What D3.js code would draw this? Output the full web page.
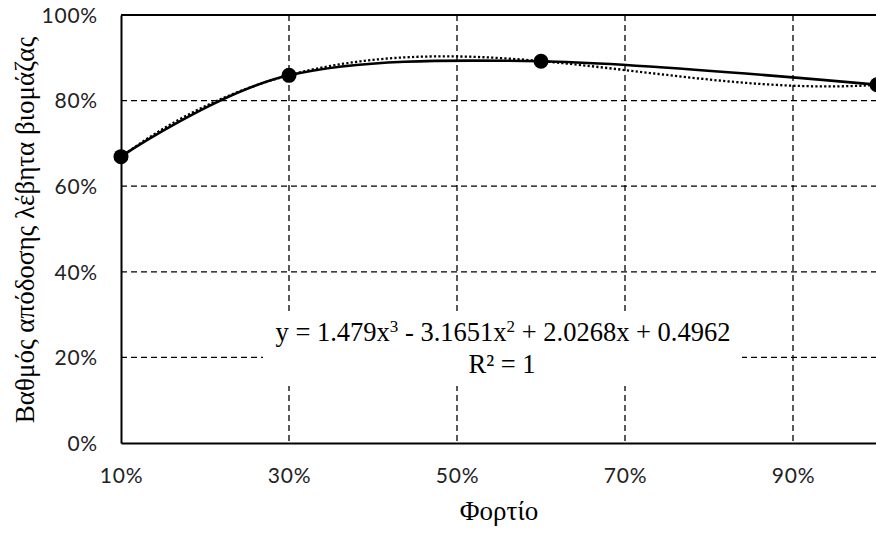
<!DOCTYPE html>
<html><head><meta charset="utf-8">
<script src="https://cdn.jsdelivr.net/npm/d3@7"></script>
<style>html,body{margin:0;padding:0;background:#fff;}svg{display:block;}</style>
</head><body>
<svg id="chart" width="876" height="533"></svg>
<script>
// Data
const loads = [0.1, 0.3, 0.6, 1.0];
const efficiency = [0.669, 0.859, 0.892, 0.837];
const trendCoefs = [0.4962, 2.0268, -3.1651, 1.479]; // c0 + c1 x + c2 x^2 + c3 x^3
const xTicks = [0.1, 0.3, 0.5, 0.7, 0.9];
const yTicks = [0, 0.2, 0.4, 0.6, 0.8, 1.0];
const xTitle = "Φορτίο";
const yTitle = "Βαθμός απόδοσης λέβητα βιομάζας";

const svg = d3.select("#chart");
const m = {left:121, right:877, top:15, bottom:443};
const x = d3.scaleLinear().domain([0.1, 1.0]).range([m.left, m.right]);
const y = d3.scaleLinear().domain([0, 1]).range([m.bottom, m.top]);
const pct = d => Math.round(d*100) + "%";

// Gridlines
const g = svg.append("g");
g.selectAll(".hg").data(yTicks.filter(d => d > 0 && d < 1)).enter().append("line")
  .attr("x1", m.left).attr("x2", m.right).attr("y1", d => y(d)).attr("y2", d => y(d))
  .attr("stroke", "#000").attr("stroke-width", 1.3).attr("stroke-dasharray", "6,4");
g.selectAll(".vg").data(xTicks.filter(d => d > 0.1)).enter().append("line")
  .attr("y1", m.top).attr("y2", m.bottom).attr("x1", d => x(d)).attr("x2", d => x(d))
  .attr("stroke", "#000").attr("stroke-width", 1.3).attr("stroke-dasharray", "6,4");

// Top border
svg.append("line").attr("x1", m.left).attr("x2", m.right).attr("y1", y(1)).attr("y2", y(1))
  .attr("stroke", "#000").attr("stroke-width", 2);

// Axes
const xAxis = svg.append("g").attr("transform", `translate(0,${m.bottom})`)
  .call(d3.axisBottom(x).tickValues(xTicks).tickFormat(pct).tickSize(0).tickPadding(25));
const yAxis = svg.append("g").attr("transform", `translate(${m.left},0)`)
  .call(d3.axisLeft(y).tickValues(yTicks).tickFormat(pct).tickSize(0).tickPadding(23));
[xAxis, yAxis].forEach(a => {
  a.select(".domain").attr("stroke", "#000").attr("stroke-width", 2);
  a.selectAll("text").attr("font-family", "Lato, 'Noto Sans', sans-serif").attr("font-size", 21)
    .attr("letter-spacing", 0.8).attr("fill", "#222");
});
yAxis.selectAll("text").attr("dy", "0.35em");

// Trendline (polynomial, dotted)
const trend = v => trendCoefs.reduce((s, c, i) => s + c * Math.pow(v, i), 0);
const tx = d3.range(0, 181).map(i => 0.1 + i * 0.005);
svg.append("path").datum(tx)
  .attr("d", d3.line().x(d => x(d)).y(d => y(trend(d))))
  .attr("fill", "none").attr("stroke", "#000").attr("stroke-width", 2.3).attr("stroke-dasharray", "2.2,2.2");

// Smooth series line
const pts = loads.map((l, i) => [l, efficiency[i]]);
svg.append("path").datum(pts)
  .attr("d", d3.line().x(d => x(d[0])).y(d => y(d[1])).curve(d3.curveCardinal.tension(0)))
  .attr("fill", "none").attr("stroke", "#000").attr("stroke-width", 2.6);

svg.selectAll(".pt").data(pts).enter().append("circle")
  .attr("cx", d => x(d[0])).attr("cy", d => y(d[1])).attr("r", 7.5).attr("fill", "#000");

// Equation label
const lab = svg.append("g");
const bg = lab.append("rect").attr("fill", "#fff");
const t = lab.append("text").attr("font-family", "'Liberation Serif', 'Times New Roman', serif")
  .attr("font-size", 26.5).attr("fill", "#000").attr("text-anchor", "middle");
const l1 = t.append("tspan").attr("x", 503).attr("y", 341);
l1.append("tspan").text("y = 1.479x");
l1.append("tspan").text("3").attr("font-size", 17).attr("dy", -9);
l1.append("tspan").text(" - 3.1651x").attr("dy", 9);
l1.append("tspan").text("2").attr("font-size", 17).attr("dy", -9);
l1.append("tspan").text(" + 2.0268x + 0.4962").attr("dy", 9);
const l2 = t.append("tspan").attr("x", 502).attr("y", 373);
l2.append("tspan").text("R² = 1");
bg.attr("x", 263).attr("y", 312).attr("width", 479).attr("height", 74);

// Axis titles
svg.append("text").attr("x", (m.left + m.right) / 2).attr("y", 520).attr("text-anchor", "middle")
  .attr("font-family", "'Liberation Serif', 'Times New Roman', serif").attr("font-size", 27).text(xTitle);
svg.append("text").attr("transform", `translate(34,${(m.top + m.bottom) / 2 + 1}) rotate(-90)`)
  .attr("text-anchor", "middle")
  .attr("font-family", "'Liberation Serif', 'Times New Roman', serif").attr("font-size", 27).text(yTitle);
</script>
</body></html>
